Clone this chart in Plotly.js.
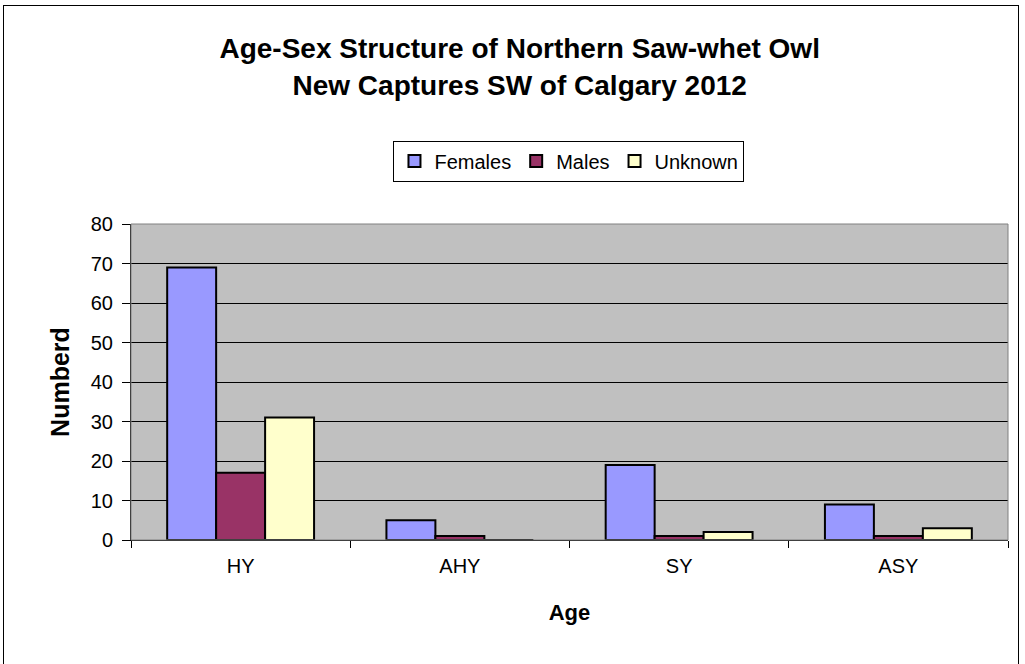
<!DOCTYPE html>
<html>
<head>
<meta charset="utf-8">
<script src="https://cdn.plot.ly/plotly-3.0.1.min.js"></script>
<style>
  html, body { margin: 0; padding: 0; background: #ffffff; }
  #wrap { position: relative; width: 1025px; height: 664px; }
  #frame { position: absolute; left: 3px; top: 5px; width: 1016px; height: 670px; border: 1px solid #000; box-sizing: border-box; pointer-events: none; }
  #chart { position: absolute; left: 0; top: 0; width: 1025px; height: 664px; }
</style>
</head>
<body>
<div id="wrap">
  <div id="chart"></div>
  <div id="frame"></div>
</div>
<script>
const categories = ["HY", "AHY", "SY", "ASY"];
const females = [69, 5, 19, 9];
const males = [17, 1, 1, 1];
const unknown = [31, 0, 2, 3];
const seriesNames = ["Females", "Males", "Unknown"];
const yTicks = [0, 10, 20, 30, 40, 50, 60, 70, 80];

const colors = ["#9999ff", "#993366", "#ffffcc"];
const values = [females, males, unknown];

const traces = values.map((v, i) => ({
  type: "bar",
  name: seriesNames[i],
  x: categories,
  y: v,
  marker: { color: colors[i], line: { color: "#000000", width: 2 } },
  hoverinfo: "x+y+name"
}));

const font = "Arial, 'Liberation Sans', sans-serif";

const layout = {
  width: 1025,
  height: 664,
  margin: { l: 131, r: 17, t: 224, b: 124 },
  paper_bgcolor: "#ffffff",
  plot_bgcolor: "#c0c0c0",
  font: { family: font, size: 20, color: "#000000" },
  title: {
    text: "<b>Age-Sex Structure of Northern Saw-whet Owl<br>New Captures SW of Calgary 2012</b>",
    font: { family: font, size: 28, color: "#000000" },
    xref: "container", x: 0.507, xanchor: "center",
    yref: "container", y: 0.912, yanchor: "middle"
  },
  barmode: "group",
  bargap: 0.33,
  bargroupgap: 0,
  showlegend: true,
  legend: {
    orientation: "h",
    x: 0.4994, xanchor: "center",
    y: 1.199, yanchor: "middle",
    bordercolor: "#000000",
    borderwidth: 1,
    bgcolor: "#ffffff",
    font: { family: font, size: 20, color: "#000000" },
    itemwidth: 30,
    traceorder: "normal"
  },
  xaxis: {
    type: "category",
    tickson: "boundaries",
    ticks: "outside",
    ticklen: 7,
    tickcolor: "#000000",
    showline: true,
    linecolor: "#000000",
    linewidth: 1,
    showgrid: false,
    ticklabelstandoff: 8,
    tickfont: { family: font, size: 20, color: "#000000" },
    title: { text: "<b>Age</b>", font: { family: font, size: 22, color: "#000000" }, standoff: 28 },
    automargin: false
  },
  yaxis: {
    range: [0, 80],
    tickvals: yTicks,
    ticks: "outside",
    ticklen: 8,
    tickcolor: "#000000",
    showline: true,
    linecolor: "#000000",
    linewidth: 1,
    showgrid: true,
    gridcolor: "#000000",
    gridwidth: 1,
    zeroline: false,
    ticklabelstandoff: 5,
    tickfont: { family: font, size: 20, color: "#000000" },
    title: { text: "<b>Numberd</b>", font: { family: font, size: 25, color: "#000000" }, standoff: 14 },
    automargin: false
  },
  shapes: [{
    type: "rect", xref: "paper", yref: "paper", x0: 0, x1: 1, y0: 0, y1: 1,
    line: { color: "#808080", width: 1 }, fillcolor: "rgba(0,0,0,0)", layer: "above"
  }]
};

Plotly.newPlot("chart", traces, layout, { displayModeBar: false });
</script>
</body>
</html>
